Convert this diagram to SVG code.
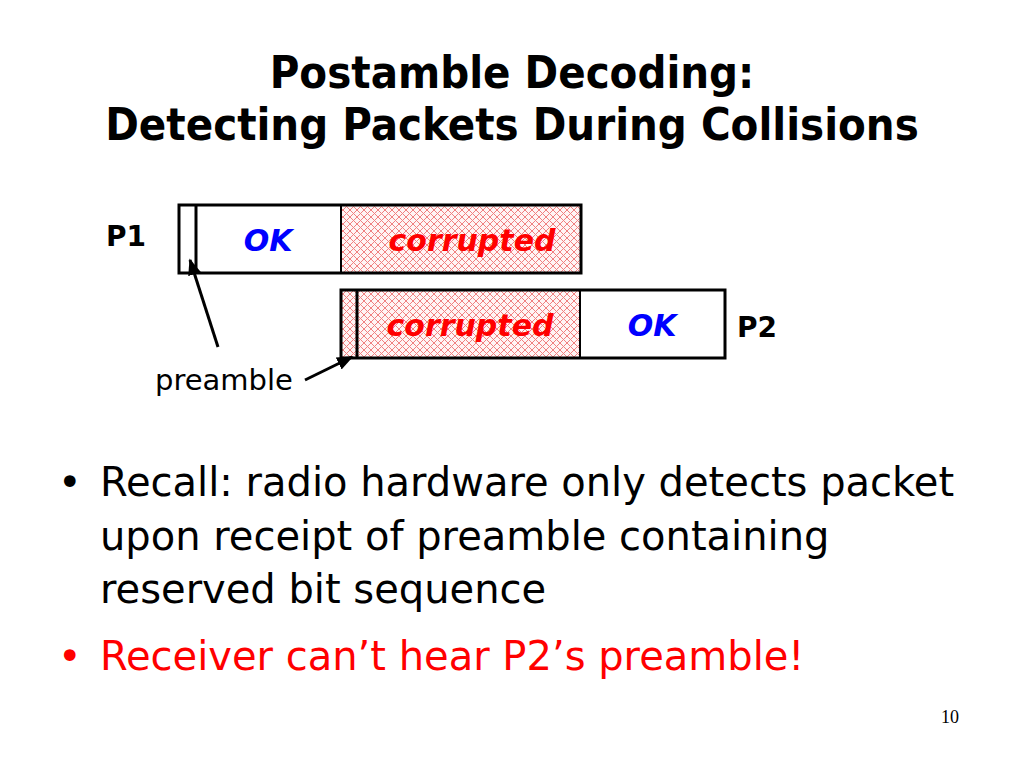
<svg xmlns="http://www.w3.org/2000/svg" width="1024" height="768" viewBox="0 0 1024 768">
<defs>
<pattern id="hatch" width="7" height="7" patternUnits="userSpaceOnUse">
<rect width="7" height="7" fill="#fff4f4"/>
<path d="M0,0 L7,7 M7,0 L0,7" stroke="#f08080" stroke-width="1"/>
</pattern>
<marker id="ah" viewBox="0 0 10 10" refX="9" refY="5" markerWidth="5.5" markerHeight="5.5" orient="auto" markerUnits="strokeWidth">
<path d="M0,1 L10,5 L0,9 z" fill="#000"/>
</marker>
<style>
.title{font-family:"DejaVu Sans Condensed","DejaVu Sans",sans-serif;font-weight:bold;font-size:45px;fill:#000;text-anchor:middle}
.box{fill:none;stroke:#000;stroke-width:3}
.ok{font-family:"DejaVu Sans",sans-serif;font-weight:bold;font-style:italic;font-size:30px;fill:#0000ff;text-anchor:middle}
.cor{font-family:"DejaVu Sans",sans-serif;font-weight:bold;font-style:italic;font-size:30px;fill:#ff0000;text-anchor:middle}
.lbl{font-family:"DejaVu Sans",sans-serif;font-weight:bold;font-size:28px;fill:#000}
.body{font-family:"DejaVu Sans",sans-serif;font-size:40px;fill:#000}
.red{fill:#ff0000}
.pre{font-family:"DejaVu Sans",sans-serif;font-size:29px;fill:#000}
.conn{stroke:#000;stroke-width:3;fill:none}
</style>
</defs>
<rect width="1024" height="768" fill="#fff"/>
<g id="title">
<text class="title" x="512" y="88">Postamble Decoding:</text>
<text class="title" x="512" y="140">Detecting Packets During Collisions</text>
</g>
<g id="P1">
<rect x="341" y="205" width="240" height="68" fill="url(#hatch)"/>
<rect class="box" x="179" y="205" width="402" height="68"/>
<line class="box" x1="196" y1="205" x2="196" y2="273"/>
<line x1="341" y1="205" x2="341" y2="273" stroke="#000" stroke-width="2"/>
<text class="ok" x="268" y="251">OK</text>
<text class="cor" x="472" y="251">corrupted</text>
<text class="lbl" x="106" y="246">P1</text>
</g>
<g id="P2">
<rect x="341" y="290" width="239" height="68" fill="url(#hatch)"/>
<rect class="box" x="341" y="290" width="384" height="68"/>
<line class="box" x1="357" y1="290" x2="357" y2="358"/>
<line x1="580" y1="290" x2="580" y2="358" stroke="#000" stroke-width="2"/>
<text class="cor" x="470" y="336">corrupted</text>
<text class="ok" x="652" y="336">OK</text>
<text class="lbl" x="737" y="337">P2</text>
</g>
<g id="preamble">
<text class="pre" x="155" y="390">preamble</text>
</g>
<g id="connectors">
<line class="conn" x1="218" y1="347" x2="190" y2="260" marker-end="url(#ah)"/>
<line class="conn" x1="305" y1="380" x2="352" y2="357" marker-end="url(#ah)"/>
</g>
<g id="bullets">
<text class="body" x="58" y="496">•</text>
<text class="body" x="100" y="496">Recall: radio hardware only detects packet</text>
<text class="body" x="100" y="550">upon receipt of preamble containing</text>
<text class="body" x="100" y="603">reserved bit sequence</text>
<text class="body red" x="58" y="670">•</text>
<text class="body red" x="100" y="670">Receiver can’t hear P2’s preamble!</text>
</g>
<text x="941" y="723" font-family="Liberation Serif,serif" font-size="18" fill="#000">10</text>
</svg>
